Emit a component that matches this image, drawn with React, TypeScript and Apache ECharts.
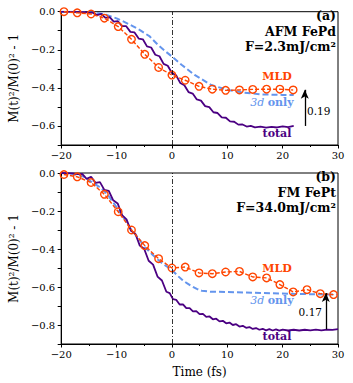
import React, { useEffect, useRef } from "react";
import * as echarts from "echarts";

// ---------- data ----------
const xTicks = [-20, -10, 0, 10, 20, 30];

// Panel (a) AFM FePd
const mldTimeA = [-19.5, -17.1, -14.6, -12.2, -9.7, -7.3, -4.9, -2.4, 0, 2.4, 4.9, 7.3, 9.7, 12.2, 14.6, 17.1, 19.5, 21.9];
const mldA = [0.0, -0.006, -0.012, -0.034, -0.078, -0.145, -0.224, -0.293, -0.333, -0.36, -0.392, -0.407, -0.413, -0.411, -0.408, -0.407, -0.407, -0.411];

const d3TimeA = [-20, -17, -14, -12, -10, -8.7, -7, -5.7, -4, -2.5, -1, 0, 1.8, 4.1, 7.1, 10.1, 13, 16, 20, 22];
const d3A = [0, -0.001, -0.004, -0.015, -0.035, -0.052, -0.077, -0.098, -0.13, -0.175, -0.212, -0.235, -0.28, -0.332, -0.385, -0.411, -0.425, -0.434, -0.437, -0.438];

const totTimeA = [-20, -18, -16, -15, -14.25, -13.5, -12.75, -12, -11.25, -10.5, -9.75, -9, -8.25, -7.5, -6.75, -6, -5.25, -4.5, -3.75, -3, -2.25, -1.5, -0.75, 0, 0.75, 1.5, 2.25, 3, 3.75, 4.5, 5.25, 6, 6.75, 7.5, 8.25, 9, 9.75, 10.5, 11.25, 12, 12.75, 13.5, 14.25, 15, 16, 17, 18, 19, 20, 21, 22];
const totA = [0, -0.001, -0.002, -0.004, -0.005, -0.018, -0.012, -0.032, -0.028, -0.052, -0.05, -0.076, -0.076, -0.106, -0.109, -0.141, -0.145, -0.182, -0.188, -0.226, -0.234, -0.274, -0.284, -0.322, -0.334, -0.374, -0.386, -0.422, -0.43, -0.461, -0.467, -0.496, -0.501, -0.528, -0.532, -0.555, -0.557, -0.576, -0.578, -0.593, -0.592, -0.603, -0.6, -0.607, -0.604, -0.609, -0.605, -0.608, -0.602, -0.606, -0.6];

// Panel (b) FM FePt
const mldTimeB = [-19.5, -17.1, -14.6, -12.2, -9.7, -7.3, -4.9, -2.4, 0, 2.4, 4.9, 7.3, 9.7, 12.2, 14.6, 17.1, 19.5, 21.9, 24.4, 26.8, 29.2];
const mldB = [-0.008, -0.02, -0.05, -0.112, -0.204, -0.3, -0.382, -0.451, -0.5, -0.495, -0.526, -0.53, -0.521, -0.518, -0.547, -0.552, -0.587, -0.626, -0.614, -0.635, -0.64];

const d3TimeB = [-20, -18, -16, -14.6, -13, -11.7, -10, -8.5, -7.3, -6, -4.9, -3.5, -2, -1, 0, 1, 1.8, 2.7, 3.6, 4.5, 5.4, 7, 10, 16, 22, 29.1, 30];
const d3B = [0, -0.004, -0.018, -0.045, -0.075, -0.11, -0.18, -0.245, -0.3, -0.345, -0.39, -0.43, -0.47, -0.49, -0.51, -0.54, -0.561, -0.58, -0.596, -0.61, -0.62, -0.625, -0.626, -0.631, -0.636, -0.64, -0.64];

const totTimeB = [-20, -18, -17, -16.2, -15.4, -14.6, -13.8, -13, -12.2, -11.4, -10.6, -9.8, -9, -8.2, -7.4, -6.6, -5.8, -5, -4.2, -3.4, -2.6, -1.8, -1, -0.4, 0.2, 0.8, 1.4, 2, 2.6, 3.2, 3.8, 4.4, 5, 5.6, 6.2, 6.8, 7.4, 8, 8.6, 9.2, 9.8, 10.4, 11, 11.6, 12.2, 12.8, 13.4, 14, 14.6, 15.2, 15.8, 16.4, 17, 17.6, 18.2, 18.8, 19.4, 20, 21, 22, 23, 24, 25, 26, 27, 28, 29, 30];
const totB = [0, -0.002, -0.006, -0.005, -0.031, -0.02, -0.052, -0.048, -0.089, -0.094, -0.144, -0.16, -0.222, -0.244, -0.304, -0.32, -0.382, -0.4, -0.462, -0.482, -0.545, -0.566, -0.625, -0.632, -0.664, -0.668, -0.692, -0.691, -0.711, -0.711, -0.728, -0.727, -0.743, -0.741, -0.757, -0.755, -0.77, -0.767, -0.781, -0.778, -0.791, -0.787, -0.8, -0.796, -0.808, -0.804, -0.815, -0.811, -0.821, -0.816, -0.825, -0.82, -0.828, -0.822, -0.829, -0.823, -0.83, -0.824, -0.829, -0.825, -0.829, -0.825, -0.828, -0.824, -0.828, -0.824, -0.826, -0.822];

// arrows (difference annotations)
const arrowA = { t: 24, from: -0.6, to: -0.41, label: "0.19" };
const arrowB = { t: 27.8, from: -0.823, to: -0.632, label: "0.17" };

// ---------- styles ----------
const SERIF = "DejaVu Serif";
const C_MLD = "#FF4500";
const C_3D = "#6495ED";
const C_TOT = "#4B0082";

const zip = (t: number[], v: number[]) => t.map((x, i) => [x, v[i]]);

const fmtX = (v: number) => (v < 0 ? "\u2212" + Math.abs(v) : String(v));
const fmtY = (v: number) => {
  const k = Math.round(v * 10);
  if (k % 2 !== 0) return "";
  if (k === 0) return "0.0";
  return "\u2212" + Math.abs(v).toFixed(1);
};

function xAxis(gi: number) {
  return {
    type: "value",
    gridIndex: gi,
    min: xTicks[0],
    max: xTicks[xTicks.length - 1],
    interval: 10,
    name: gi === 1 ? "Time (fs)" : "",
    nameLocation: "middle",
    nameGap: 22,
    nameTextStyle: { fontFamily: SERIF, fontSize: 12, color: "#000" },
    axisLine: { show: true, onZero: false, lineStyle: { color: "#000", width: 1 } },
    axisTick: { show: true, inside: false, length: 3.5, lineStyle: { color: "#000" } },
    minorTick: { show: true, splitNumber: 2, length: 2, lineStyle: { color: "#000" } },
    splitLine: { show: false },
    axisLabel: { formatter: fmtX, fontFamily: SERIF, fontSize: 10, color: "#000", margin: 5 },
  };
}

function yAxis(gi: number, min: number) {
  return {
    type: "value",
    gridIndex: gi,
    min,
    max: 0,
    interval: 0.1,
    name: "M(t)\u00B2/M(0)\u00B2 - 1",
    nameLocation: "middle",
    nameRotate: 90,
    nameGap: 36,
    nameTextStyle: { fontFamily: SERIF, fontSize: 12, color: "#000" },
    axisLine: { show: true, onZero: false, lineStyle: { color: "#000", width: 1 } },
    axisTick: { show: true, inside: false, length: 3.5, lineStyle: { color: "#000" } },
    splitLine: { show: false },
    axisLabel: { formatter: fmtY, fontFamily: SERIF, fontSize: 10, color: "#000", margin: 6 },
  };
}

function panelSeries(gi: number, tot: number[][], d3: number[][], mld: number[][], arrow: any) {
  return [
    {
      type: "line",
      xAxisIndex: gi,
      yAxisIndex: gi,
      data: d3,
      showSymbol: false,
      symbol: "none",
      lineStyle: { color: C_3D, width: 2, type: [6, 3] },
      z: 2,
    },
    {
      type: "line",
      xAxisIndex: gi,
      yAxisIndex: gi,
      data: tot,
      showSymbol: false,
      symbol: "none",
      lineStyle: { color: C_TOT, width: 1.8 },
      z: 3,
      markLine: {
        silent: true,
        symbol: "none",
        label: { show: false },
        data: [
          { xAxis: 0, lineStyle: { color: "#000", width: 0.8, type: [5, 2, 1, 2] } },
          [
            { coord: [arrow.t, arrow.from], symbol: "none" },
            { coord: [arrow.t, arrow.to], symbol: "arrow", symbolSize: [6, 9], lineStyle: { color: "#000", width: 1.3, type: "solid" } },
          ],
        ],
      },
    },
    {
      type: "line",
      xAxisIndex: gi,
      yAxisIndex: gi,
      data: mld,
      symbol: "circle",
      symbolSize: 7.5,
      itemStyle: { color: "rgba(255,255,255,0)", borderColor: C_MLD, borderWidth: 1.4 },
      lineStyle: { color: C_MLD, width: 1.4, type: [4, 2] },
      z: 4,
    },
  ];
}

function txt(x: number, y: number, text: string, opts: any = {}) {
  return {
    type: "text",
    x,
    y,
    z: 10,
    style: {
      text,
      fontFamily: SERIF,
      fontSize: opts.size || 11,
      fontWeight: opts.bold ? "bold" : "normal",
      fill: opts.color || "#000",
      align: opts.align || "center",
      verticalAlign: "middle",
    },
  };
}

function annotations(yOff: number, title1: string, title2: string, panel: string, lbl: any) {
  const out: any[] = [
    txt(336, yOff + 15, panel, { bold: true, size: 12.5, align: "right" }),
    txt(336, yOff + 31, title1, { bold: true, size: 12.5, align: "right" }),
    txt(336, yOff + 46, title2, { bold: true, size: 12.5, align: "right" }),
    txt(277, lbl.mld, "MLD", { bold: true, size: 11, color: C_MLD }),
    {
      type: "text",
      x: 272,
      y: lbl.d3,
      z: 10,
      style: {
        text: "{i|3d} {b|only}",
        align: "center",
        verticalAlign: "middle",
        fill: C_3D,
        rich: {
          i: { fontFamily: SERIF, fontSize: 11, fontStyle: "italic", fill: C_3D },
          b: { fontFamily: SERIF, fontSize: 11, fontWeight: "bold", fill: C_3D },
        },
      },
    },
    txt(277, lbl.tot, "total", { bold: true, size: 11, color: C_TOT }),
    txt(lbl.numX, lbl.numY, lbl.num, { size: 10.5, align: lbl.numAlign }),
  ];
  return out;
}

export default function App() {
  const ref = useRef<HTMLDivElement>(null);
  useEffect(() => {
    if (!ref.current) return;
    const chart = echarts.init(ref.current, null, { renderer: "svg" });
    const option: any = {
      animation: false,
      backgroundColor: "#fff",
      grid: [
        { left: 58, right: 15, top: 11.7, height: 133.3, show: true, borderColor: "#000", borderWidth: 1, backgroundColor: "transparent" },
        { left: 58, right: 15, top: 173, height: 171, show: true, borderColor: "#000", borderWidth: 1, backgroundColor: "transparent" },
      ],
      xAxis: [xAxis(0), xAxis(1)],
      yAxis: [yAxis(0, -0.7), yAxis(1, -0.9)],
      series: [
        ...panelSeries(0, zip(totTimeA, totA), zip(d3TimeA, d3A), zip(mldTimeA, mldA), arrowA),
        ...panelSeries(1, zip(totTimeB, totB), zip(d3TimeB, d3B), zip(mldTimeB, mldB), arrowB),
      ],
      graphic: [
        ...annotations(0, "AFM FePd", "F=2.3mJ/cm\u00B2", "(a)", { mld: 76, d3: 102, tot: 133, num: arrowA.label, numX: 307, numY: 111, numAlign: "left" }),
        ...annotations(161.3, "FM FePt", "F=34.0mJ/cm\u00B2", "(b)", { mld: 268.3, d3: 300, tot: 336.7, num: arrowB.label, numX: 322, numY: 311.7, numAlign: "right" }),
      ],
    };
    chart.setOption(option);
    return () => chart.dispose();
  }, []);
  return <div ref={ref} style={{ position: "fixed", left: 0, top: 0, width: 353, height: 383 }} />;
}
